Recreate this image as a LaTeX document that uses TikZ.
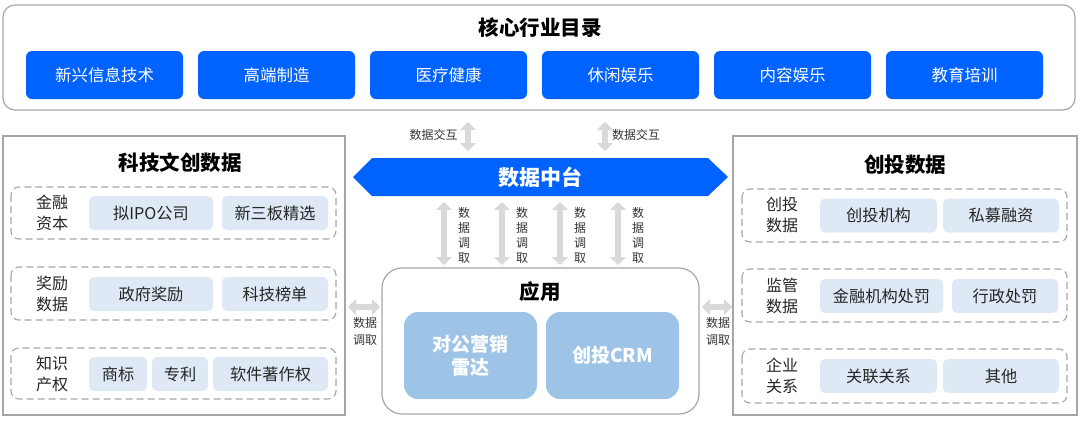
\documentclass[tikz,border=0pt]{standalone}
\usepackage{fontspec}
\newfontfamily\cjk{Noto Sans CJK SC}
\usetikzlibrary{arrows.meta}

\definecolor{mainblue}{HTML}{0062FF}
\definecolor{paleblue}{HTML}{DEE9F5}
\definecolor{appblue}{HTML}{9DC3E6}
\definecolor{framegray}{HTML}{A6A6A6}
\definecolor{arrowgray}{HTML}{D9D9D9}

\tikzset{
  catbox/.style={fill=mainblue, rounded corners=6pt, minimum width=157pt, minimum height=48pt,
    text=white, font=\cjk\fontsize{16.5}{19}\selectfont, inner sep=0pt},
  itembox/.style={fill=paleblue, rounded corners=5pt, minimum height=34pt,
    font=\cjk\fontsize{16.2}{19}\selectfont, text=black!85, inner sep=0pt},
  appbox/.style={fill=appblue, rounded corners=14pt, minimum width=133pt, minimum height=87pt,
    text=white, align=center, font=\cjk\bfseries\fontsize{19}{23}\selectfont, inner sep=0pt},
  grouplabel/.style={align=center, font=\cjk\fontsize{16}{20.5}\selectfont, text=black!85, inner sep=0pt},
  groupframe/.style={draw=framegray, dash pattern=on 7pt off 4pt, line width=1.1pt, rounded corners=8pt},
  panel/.style={draw=framegray, line width=1.2pt},
  heading/.style={font=\cjk\bfseries\fontsize{20.5}{24}\selectfont, inner sep=0pt},
  flow/.style={draw=arrowgray, line width=6.5pt, {Triangle[width=16pt,length=8pt]}-{Triangle[width=16pt,length=8pt]}},
  smalltag/.style={font=\cjk\fontsize{12}{17}\selectfont, text=black!80, align=center, inner sep=0pt},
}

\begin{document}
\begin{tikzpicture}[x=1pt, y=-1pt]
  \useasboundingbox (0,0) rectangle (1080,421);

  % Top: industry catalogue
  \draw[framegray, line width=1.2pt, rounded corners=12pt] (3,5) rectangle (1075,110);
  \node[heading] (catalog) at (540,28) {核心行业目录};
  \foreach \name [count=\i] in {新兴信息技术,高端制造,医疗健康,休闲娱乐,内容娱乐,教育培训}
    \node[catbox] (cat\i) at ({104.5+172*(\i-1)},75) {\name};

  % Left panel
  \draw[panel] (3,136) rectangle (345,415);
  \node[heading] (techtitle) at (180,163) {科技文创数据};
  \draw[groupframe] (11,187) rectangle (336,239);
  \node[grouplabel] (finlabel) at (52,213) {金融\\资本};
  \node[itembox, minimum width=124pt] (ipo) at (151,213) {拟IPO公司};
  \node[itembox, minimum width=106pt] (neeq) at (275,213) {新三板精选};
  \draw[groupframe] (11,267) rectangle (336,320);
  \node[grouplabel] (awardlabel) at (52,294) {奖励\\数据};
  \node[itembox, minimum width=124pt] (govaward) at (151,294) {政府奖励};
  \node[itembox, minimum width=106pt] (techrank) at (275,294) {科技榜单};
  \draw[groupframe] (11,348) rectangle (336,399);
  \node[grouplabel] (iplabel) at (52,374) {知识\\产权};
  \node[itembox, minimum width=58pt] (mark) at (118,374) {商标};
  \node[itembox, minimum width=56pt] (patent) at (180,374) {专利};
  \node[itembox, minimum width=115pt] (softcopy) at (270.5,374) {软件著作权};

  % Right panel
  \draw[panel] (733,136) rectangle (1077,415);
  \node[heading] (vctitle) at (905,165) {创投数据};
  \draw[groupframe] (742,189) rectangle (1067,242);
  \node[grouplabel] (vclabel) at (782,215) {创投\\数据};
  \node[itembox, minimum width=117pt] (vcorg) at (878.5,215.5) {创投机构};
  \node[itembox, minimum width=116pt] (pefund) at (1001,215.5) {私募融资};
  \draw[groupframe] (742,269) rectangle (1067,322);
  \node[grouplabel] (reglabel) at (782,296) {监管\\数据};
  \node[itembox, minimum width=123pt] (finpen) at (881.5,296) {金融机构处罚};
  \node[itembox, minimum width=106pt] (admpen) at (1005,296) {行政处罚};
  \draw[groupframe] (742,349) rectangle (1067,403);
  \node[grouplabel] (entlabel) at (782,376) {企业\\关系};
  \node[itembox, minimum width=117pt] (links) at (878.5,376) {关联关系};
  \node[itembox, minimum width=116pt] (others) at (1001,376) {其他};

  % Data hub
  \fill[mainblue] (353,177) -- (372,158) -- (708,158) -- (728,177) -- (708,196) -- (372,196) -- cycle;
  \node[font=\cjk\bfseries\fontsize{21}{24}\selectfont, text=white] (hub) at (540,177) {数据中台};

  % Exchange with the catalogue
  \coordinate (up1a) at (468,122);
  \coordinate (up1b) at (468,151);
  \coordinate (up2a) at (605,122);
  \coordinate (up2b) at (605,151);
  \draw[flow] (up1a) -- (up1b);
  \draw[flow] (up2a) -- (up2b);
  \node[smalltag] (swap1) at (433.5,135) {数据交互};
  \node[smalltag] (swap2) at (636,135) {数据交互};

  % Pulls from the hub
  \foreach \x [count=\i] in {444,502,560,618} {
    \coordinate (pull\i a) at (\x,202);
    \coordinate (pull\i b) at (\x,265);
    \draw[flow] (pull\i a) -- (pull\i b);
    \node[smalltag, font=\cjk\fontsize{12}{15}\selectfont] (pulltag\i) at (\x+20,235) {数\\据\\调\\取};
  }

  % Applications
  \draw[framegray, line width=1.2pt, rounded corners=20pt] (382,268) rectangle (699,414);
  \node[heading] (apptitle) at (540,292) {应用};
  \node[appbox] (radar) at (470.5,355.5) {对公营销\\雷达};
  \node[appbox] (crm) at (612.5,355.5) {创投CRM};

  % Side pulls
  \coordinate (sideLa) at (348,307);
  \coordinate (sideLb) at (380,307);
  \coordinate (sideRa) at (702,307);
  \coordinate (sideRb) at (732,307);
  \draw[flow] (sideLa) -- (sideLb);
  \draw[flow] (sideRa) -- (sideRb);
  \node[smalltag] (sidetagL) at (365,331) {数据\\调取};
  \node[smalltag] (sidetagR) at (718,331) {数据\\调取};
\end{tikzpicture}
\end{document}
